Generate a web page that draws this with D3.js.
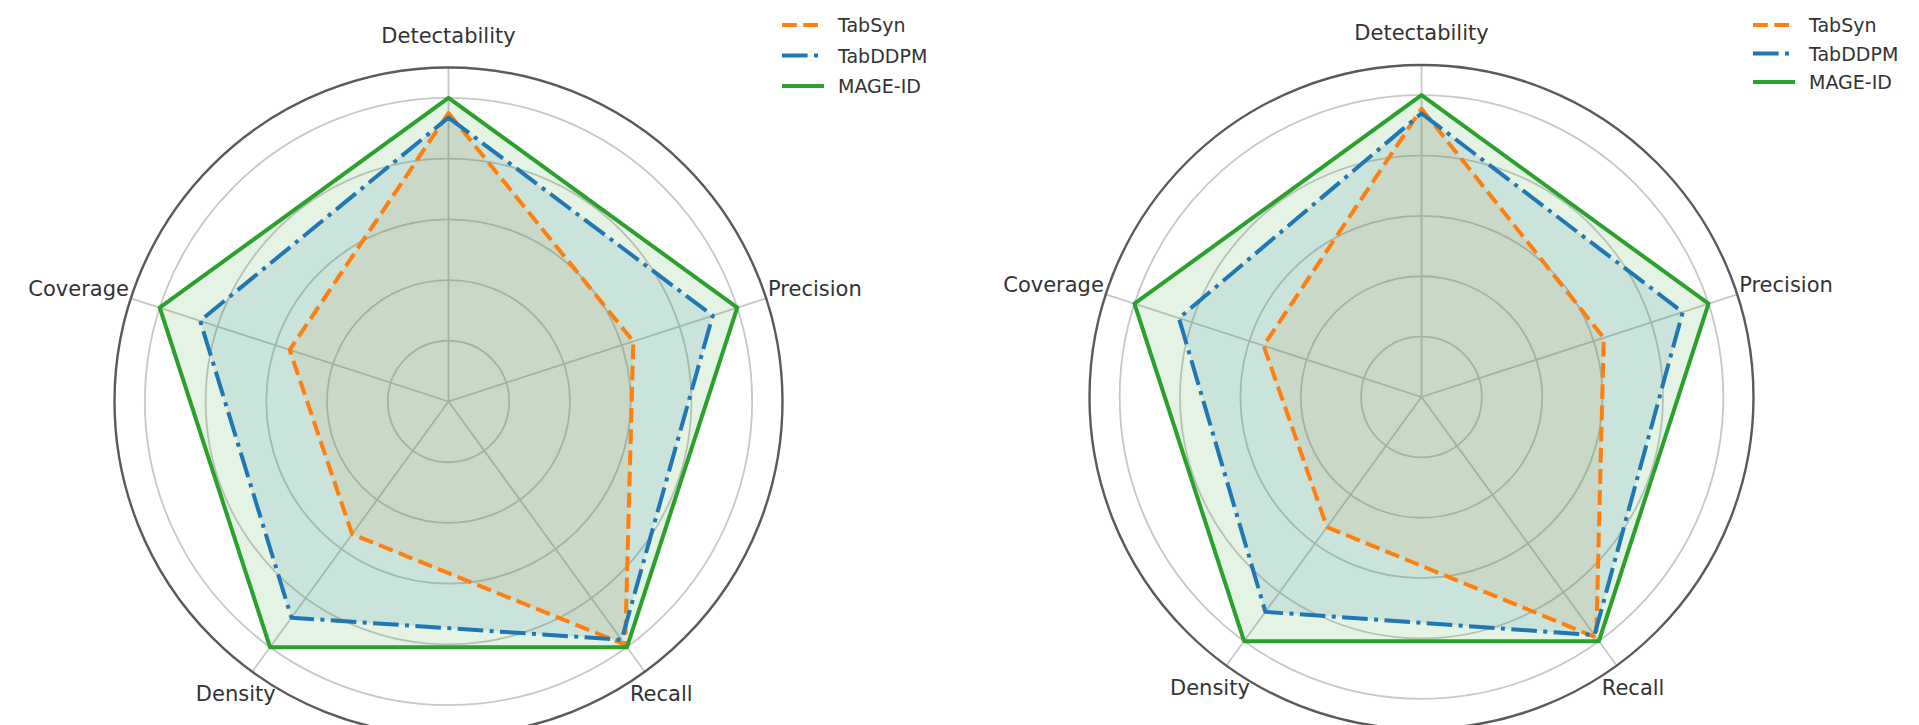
<!DOCTYPE html>
<html>
<head>
<meta charset="utf-8">
<script src="https://cdn.jsdelivr.net/npm/d3@7"></script>
<style>
  html, body { margin: 0; padding: 0; background: #fff; }
  svg { display: block; }
  text { font-family: "DejaVu Sans", sans-serif; fill: #333; }
</style>
</head>
<body>
<div id="chart"></div>
<script>
// axes, clockwise from the top
const axes = ['Detectability', 'Precision', 'Recall', 'Density', 'Coverage'];
const seriesNames = ['TabSyn', 'TabDDPM', 'MAGE-ID'];
const ringTicks = [0.2, 0.4, 0.6, 0.8, 1.0];
const radialMax = 1.1;

// left panel values (normalised, MAGE-ID = 1)
const leftTabSyn = [0.95, 0.64, 0.99, 0.54, 0.55];
const leftTabDDPM = [0.935, 0.915, 0.97, 0.88, 0.86];
const leftMageId = [1.0, 1.0, 1.0, 1.0, 1.0];

// right panel values
const rightTabSyn = [0.955, 0.635, 0.985, 0.533, 0.55];
const rightTabDDPM = [0.94, 0.91, 0.975, 0.88, 0.845];
const rightMageId = [1.0, 1.0, 1.0, 1.0, 1.0];

const W = 1919, H = 725;

const styles = {
  'TabSyn': { color: '#ff7f0e', dash: '14.8,6.4', fillOpacity: 0.10 },
  'TabDDPM': { color: '#1f77b4', dash: '25.6,6.4,4,6.4', fillOpacity: 0.13 },
  'MAGE-ID': { color: '#2ca02c', dash: null, fillOpacity: 0.13 },
};

const svg = d3.select('#chart').append('svg')
  .attr('width', W)
  .attr('height', H);

svg.append('rect').attr('width', W).attr('height', H).attr('fill', '#fff');

function drawRadar(opts) {
  const { cx, cy, R, values, legend } = opts;
  const g = svg.append('g').attr('transform', `translate(${cx},${cy})`);

  const r = d3.scaleLinear().domain([0, radialMax]).range([0, R]);
  const angle = d3.scaleLinear().domain([0, axes.length]).range([0, 2 * Math.PI]);

  // rings
  g.selectAll('.ring')
    .data(ringTicks)
    .join('circle')
    .attr('class', 'ring')
    .attr('r', (d) => r(d))
    .attr('fill', 'none')
    .attr('stroke', '#c8c8c8')
    .attr('stroke-width', 1.8);

  // spokes
  g.selectAll('.spoke')
    .data(axes)
    .join('line')
    .attr('class', 'spoke')
    .attr('x1', 0)
    .attr('y1', 0)
    .attr('x2', (d, i) => r(radialMax) * Math.sin(angle(i)))
    .attr('y2', (d, i) => -r(radialMax) * Math.cos(angle(i)))
    .attr('stroke', '#c8c8c8')
    .attr('stroke-width', 1.8);

  // outer spine
  g.append('circle')
    .attr('r', r(radialMax))
    .attr('fill', 'none')
    .attr('stroke', '#5a5a5a')
    .attr('stroke-width', 2.4);

  const line = d3.lineRadial()
    .angle((d, i) => angle(i))
    .radius((d) => r(d))
    .curve(d3.curveLinearClosed);

  // fills first
  seriesNames.forEach((name, k) => {
    g.append('path')
      .datum(values[k])
      .attr('d', line)
      .attr('fill', styles[name].color)
      .attr('fill-opacity', styles[name].fillOpacity)
      .attr('stroke', 'none');
  });

  // then lines
  seriesNames.forEach((name, k) => {
    g.append('path')
      .datum(values[k])
      .attr('d', line)
      .attr('fill', 'none')
      .attr('stroke', styles[name].color)
      .attr('stroke-width', 4)
      .attr('stroke-linejoin', 'round')
      .attr('stroke-dasharray', styles[name].dash);
  });

  // axis labels
  g.selectAll('.axis-label')
    .data(axes)
    .join('text')
    .attr('class', 'axis-label')
    .attr('font-size', 21)
    .attr('dominant-baseline', 'central')
    .each(function (d, i) {
      const a = angle(i);
      const s = Math.sin(a), c = Math.cos(a);
      const t = d3.select(this).text(d);
      if (c > 0.5) {
        const rr = R + 32;
        t.attr('x', rr * s).attr('y', -rr * c).attr('text-anchor', 'middle');
      } else if (c < -0.5) {
        const rr = R + 28;
        t.attr('x', rr * s).attr('y', -rr * c).attr('text-anchor', 'middle');
      } else {
        const rr = R + 2;
        t.attr('x', rr * s).attr('y', -rr * c - 9)
          .attr('text-anchor', s > 0 ? 'start' : 'end');
      }
    });

  // legend
  const lg = svg.append('g').attr('transform', `translate(${legend.x},${legend.y})`);
  seriesNames.forEach((name, k) => {
    const row = lg.append('g').attr('transform', `translate(0,${k * legend.step})`);
    row.append('line')
      .attr('x1', 0).attr('x2', 42)
      .attr('y1', 0).attr('y2', 0)
      .attr('stroke', styles[name].color)
      .attr('stroke-width', 4)
      .attr('stroke-dasharray', styles[name].dash);
    row.append('text')
      .attr('x', 56)
      .attr('y', 0)
      .attr('dominant-baseline', 'central')
      .attr('font-size', 19)
      .text(name);
  });
}

drawRadar({
  cx: 448.5, cy: 401.5, R: 334,
  values: [leftTabSyn, leftTabDDPM, leftMageId],
  legend: { x: 782, y: 25, step: 30.5 },
});

drawRadar({
  cx: 1421.5, cy: 397, R: 332,
  values: [rightTabSyn, rightTabDDPM, rightMageId],
  legend: { x: 1753, y: 25, step: 28.5 },
});
</script>
</body>
</html>
